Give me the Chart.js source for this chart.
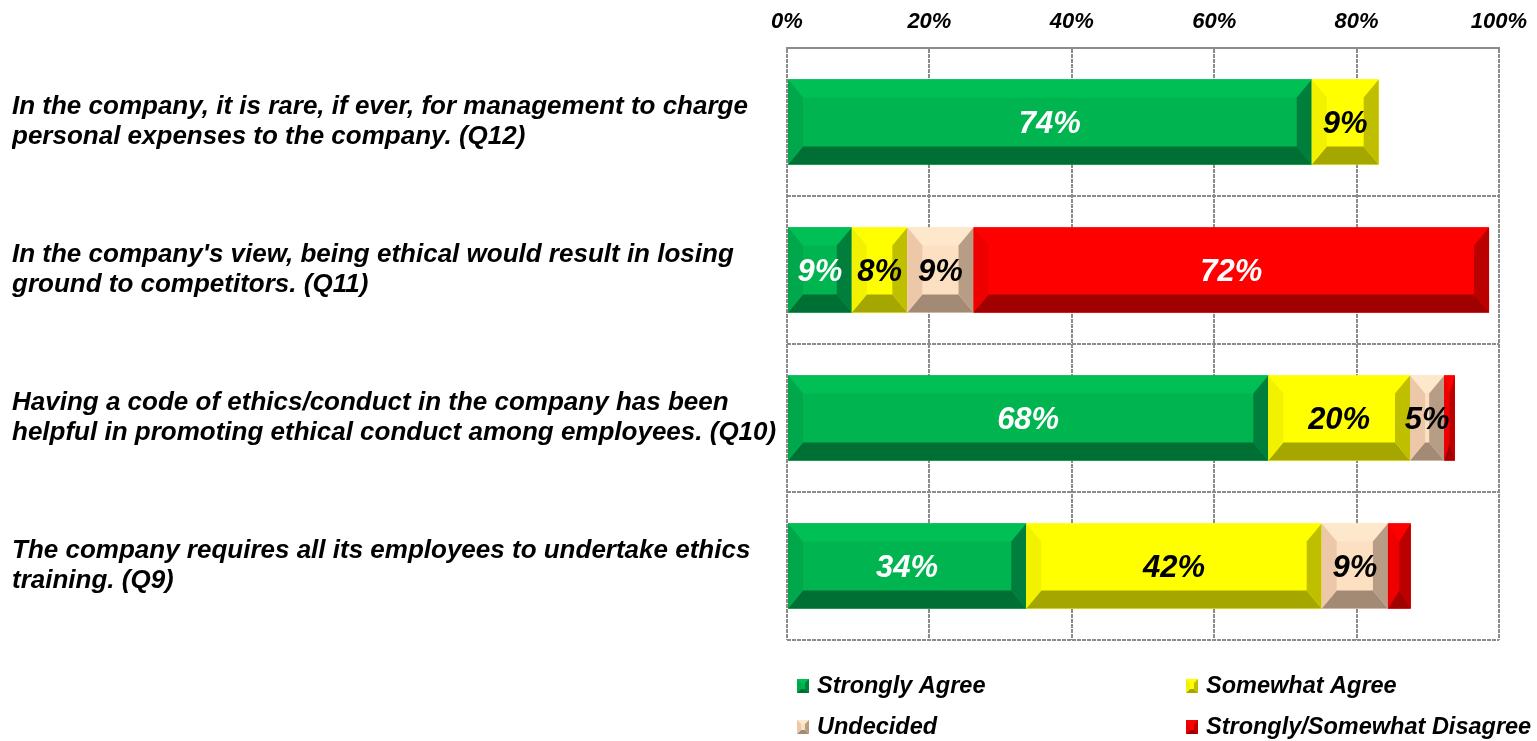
<!DOCTYPE html>
<html>
<head>
<meta charset="utf-8">
<script src="https://cdn.jsdelivr.net/npm/chart.js@4.4.1/dist/chart.umd.min.js"></script>
<style>
    html, body { margin: 0; padding: 0; background: #fff; }
    #box { width: 1537px; height: 741px; }
</style>
</head>
<body>
<div id="box"><canvas id="myChart"></canvas></div>
<script>
var fragen = [
    ["In the company, it is rare, if ever, for management to charge", "personal expenses to the company. (Q12)"],
    ["In the company's view, being ethical would result in losing", "ground to competitors. (Q11)"],
    ["Having a code of ethics/conduct in the company has been", "helpful in promoting ethical conduct among employees. (Q10)"],
    ["The company requires all its employees to undertake ethics", "training. (Q9)"]
];
var strongly_agree = [73.7, 9.1, 67.6, 33.6];
var somewhat_agree = [9.4, 7.8, 19.9, 41.5];
var undecided = [0, 9.3, 4.8, 9.3];
var disagree = [0, 72.4, 1.5, 3.2];
var antwort_namen = ["Strongly Agree", "Somewhat Agree", "Undecided", "Strongly/Somewhat Disagree"];
var x_ticks = [0, 20, 40, 60, 80, 100];

// face, top, left, right, bottom, text
var farben = [
    { face: "#00b450", top: "#00c055", left: "#00a84b", right: "#007f3c", bottom: "#006f34", text: "#ffffff" },
    { face: "#ffff00", top: "#ffff00", left: "#f2f200", right: "#bfbf00", bottom: "#a6a600", text: "#000000" },
    { face: "#fde0c2", top: "#fee8cc", left: "#ecc8a9", right: "#b89d86", bottom: "#a28a74", text: "#000000" },
    { face: "#ff0000", top: "#ff0000", left: "#ee0000", right: "#bb0000", bottom: "#a00000", text: "#ffffff" }
];

var schrift = "'Liberation Sans', Arial, sans-serif";
var gitter = "#8c8c8c";

function poly(ctx, pts, col){
    ctx.fillStyle = col;
    ctx.beginPath();
    ctx.moveTo(pts[0][0], pts[0][1]);
    for (var i = 1; i < pts.length; i++) ctx.lineTo(pts[i][0], pts[i][1]);
    ctx.closePath();
    ctx.fill();
}

function bevel(ctx, l, t, r, b, f, bx, by){
    var w = r - l, h = b - t;
    bx = Math.min(bx, w / 2);
    by = Math.min(by, h / 2);
    ctx.fillStyle = f.face;
    ctx.fillRect(l, t, w, h);
    poly(ctx, [[l, t], [r, t], [r - bx, t + by], [l + bx, t + by]], f.top);
    poly(ctx, [[l, b], [r, b], [r - bx, b - by], [l + bx, b - by]], f.bottom);
    poly(ctx, [[l, t], [l + bx, t + by], [l + bx, b - by], [l, b]], f.left);
    poly(ctx, [[r, t], [r - bx, t + by], [r - bx, b - by], [r, b]], f.right);
}

var bevelPlugin = {
    id: "bevel",
    afterDatasetsDraw: function(chart){
        var ctx = chart.ctx;
        ctx.save();
        chart.data.datasets.forEach(function(ds, di){
            var meta = chart.getDatasetMeta(di);
            meta.data.forEach(function(bar, i){
                var p = bar.getProps(["x", "y", "base", "height"], true);
                var l = Math.min(p.x, p.base), r = Math.max(p.x, p.base);
                if (r - l < 0.5) return;
                bevel(ctx, l, p.y - p.height / 2, r, p.y + p.height / 2, farben[di], 15, 18);
            });
        });
        // Werte in die Balken
        ctx.font = "italic bold 31px " + schrift;
        ctx.textAlign = "center";
        ctx.textBaseline = "middle";
        chart.data.datasets.forEach(function(ds, di){
            var meta = chart.getDatasetMeta(di);
            meta.data.forEach(function(bar, i){
                var v = ds.data[i];
                if (v < 4) return;
                var p = bar.getProps(["x", "y", "base"], true);
                ctx.fillStyle = farben[di].text;
                ctx.fillText(Math.round(v) + "%", (p.x + p.base) / 2, p.y + 2);
            });
        });
        ctx.restore();
    },
    afterDraw: function(chart){
        // Legende 2x2 unter dem Diagramm
        var ctx = chart.ctx;
        var a = chart.chartArea;
        ctx.save();
        ctx.font = "italic bold 23.5px " + schrift;
        ctx.textAlign = "left";
        ctx.textBaseline = "middle";
        chart.data.datasets.forEach(function(ds, di){
            var x = a.left + 10 + (di % 2) * 389;
            var y = a.bottom + 46 + Math.floor(di / 2) * 41;
            bevel(ctx, x, y - 7, x + 12, y + 7, farben[di], 4, 4);
            ctx.fillStyle = "#000";
            ctx.fillText(ds.label, x + 20, y + 1);
        });
        ctx.restore();
    }
};

function datensatz(name, werte, f){
    return {
        label: name,
        data: werte,
        backgroundColor: f.face,
        borderWidth: 0,
        barPercentage: 0.575,
        categoryPercentage: 1
    };
}

new Chart("myChart", {
    type: "bar",
    data: {
        labels: fragen,
        datasets: [
            datensatz(antwort_namen[0], strongly_agree, farben[0]),
            datensatz(antwort_namen[1], somewhat_agree, farben[1]),
            datensatz(antwort_namen[2], undecided, farben[2]),
            datensatz(antwort_namen[3], disagree, farben[3])
        ]
    },
    options: {
        indexAxis: "y",
        responsive: true,
        maintainAspectRatio: false,
        animation: false,
        layout: { padding: { left: 12, right: 38, top: 0, bottom: 101 } },
        plugins: {
            legend: { display: false },
            tooltip: { enabled: false }
        },
        scales: {
            x: {
                position: "top",
                stacked: true,
                min: 0,
                max: 100,
                afterBuildTicks: function(axis){
                    axis.ticks = x_ticks.map(function(v){ return { value: v }; });
                },
                afterFit: function(axis){
                    axis.height = 48;
                    axis.paddingLeft = 0;
                    axis.paddingRight = 0;
                },
                ticks: {
                    padding: 13,
                    color: "#000",
                    font: { family: schrift, size: 22, style: "italic", weight: "bold" },
                    callback: function(v){ return v + "%"; }
                },
                grid: {
                    color: gitter,
                    lineWidth: 2,
                    drawTicks: false
                },
                border: { display: true, color: gitter, width: 2, dash: [4, 1] }
            },
            y: {
                stacked: true,
                afterFit: function(axis){ axis.width = 775; },
                ticks: {
                    crossAlign: "far",
                    color: "#000",
                    font: { family: schrift, size: 26, style: "italic", weight: "bold", lineHeight: 1.15 }
                },
                grid: {
                    offset: true,
                    color: gitter,
                    lineWidth: 2,
                    drawTicks: false
                },
                border: { display: false, dash: [4, 1] }
            }
        }
    },
    plugins: [bevelPlugin, {
        id: "oberkante",
        beforeDatasetsDraw: function(chart){
            // durchgezogene Linie oben am Plotbereich
            var a = chart.chartArea, ctx = chart.ctx;
            ctx.save();
            ctx.strokeStyle = gitter;
            ctx.lineWidth = 2;
            ctx.beginPath();
            ctx.moveTo(a.left, a.top);
            ctx.lineTo(a.right, a.top);
            ctx.stroke();
            ctx.restore();
        }
    }]
});
</script>
</body>
</html>
